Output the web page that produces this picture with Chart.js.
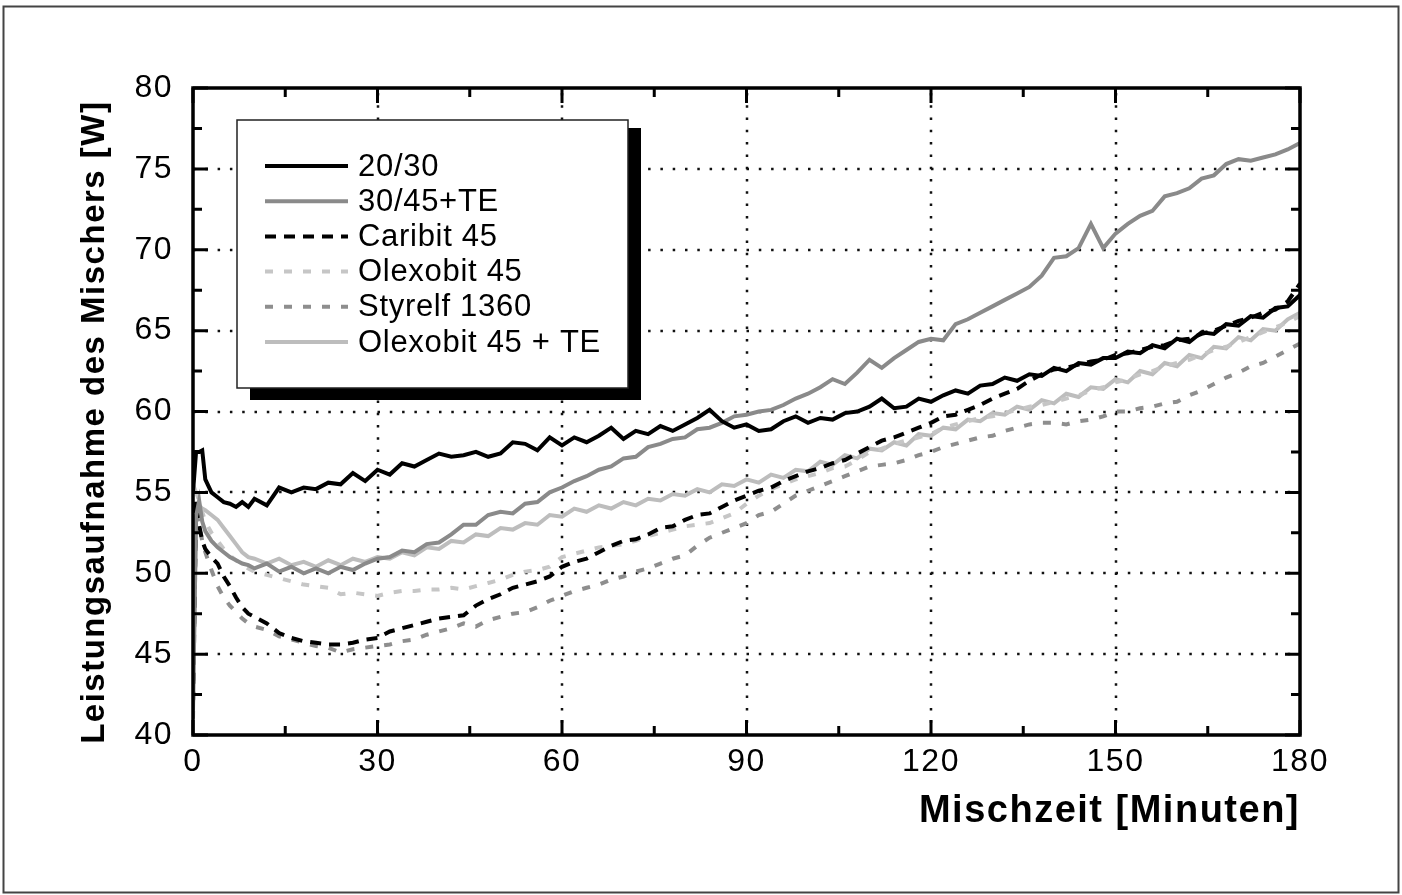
<!DOCTYPE html>
<html>
<head>
<meta charset="utf-8">
<title>Leistungsaufnahme des Mischers</title>
<script src="https://cdn.jsdelivr.net/npm/chart.js@4.4.0/dist/chart.umd.min.js"></script>
<style>
    html, body { margin: 0; padding: 0; background: #fff; }
    #wrap { width: 1402px; height: 895px; }
</style>
</head>
<body>
<div id="wrap"><canvas id="mixChart" width="1402" height="895"></canvas></div>
<script>
// Mixing time in minutes (x values shared by all series)
const minutes = [0, 0.5, 1, 1.5, 2, 3, 4, 5, 6, 7, 8, 9,
    10, 12, 14, 16, 18, 20, 22, 24, 26, 28,
    30, 32, 34, 36, 38, 40, 42, 44, 46, 48,
    50, 52, 54, 56, 58, 60, 62, 64, 66, 68,
    70, 72, 74, 76, 78, 80, 82, 84, 86, 88,
    90, 92, 94, 96, 98, 100, 102, 104, 106, 108,
    110, 112, 114, 116, 118, 120, 122, 124, 126, 128,
    130, 132, 134, 136, 138, 140, 142, 144, 146, 148,
    150, 152, 154, 156, 158, 160, 162, 164, 166, 168,
    170, 172, 174, 176, 178, 180];

// Power draw of the mixer [W]
const bitumen2030 = [55.0, 57.5, 57.5, 57.6, 55.8, 55.0, 54.7, 54.4, 54.3, 54.1, 54.4, 54.1,
    54.6, 54.2, 55.3, 55.0, 55.3, 55.2, 55.6, 55.5, 56.2, 55.7,
    56.4, 56.1, 56.8, 56.6, 57.0, 57.4, 57.2, 57.3, 57.5, 57.2,
    57.4, 58.1, 58.0, 57.6, 58.4, 57.9, 58.4, 58.1, 58.5, 59.0,
    58.3, 58.8, 58.6, 59.1, 58.8, 59.2, 59.6, 60.1, 59.4, 59.0,
    59.2, 58.8, 58.9, 59.4, 59.7, 59.3, 59.6, 59.5, 59.9, 60.0,
    60.3, 60.8, 60.2, 60.3, 60.8, 60.6, 61.0, 61.3, 61.1, 61.6,
    61.7, 62.1, 61.9, 62.3, 62.2, 62.7, 62.5, 63.0, 62.9, 63.3,
    63.3, 63.7, 63.6, 64.1, 63.9, 64.5, 64.3, 64.9, 64.8, 65.4,
    65.3, 65.9, 65.8, 66.4, 66.5, 67.2];

const bitumen3045TE = [41.5, 53.5, 54.5, 53.2, 52.6, 52.0, 51.6, 51.3, 51.0, 50.8, 50.6, 50.5,
    50.3, 50.6, 50.1, 50.4, 50.0, 50.3, 50.0, 50.4, 50.2, 50.6,
    50.9, 51.0, 51.4, 51.3, 51.8, 51.9, 52.4, 53.0, 53.0, 53.6,
    53.8, 53.7, 54.3, 54.4, 55.0, 55.3, 55.7, 56.0, 56.4, 56.6,
    57.1, 57.2, 57.8, 58.0, 58.3, 58.4, 58.9, 59.0, 59.3, 59.7,
    59.8, 60.0, 60.1, 60.4, 60.8, 61.1, 61.5, 62.0, 61.7, 62.4,
    63.2, 62.7, 63.3, 63.8, 64.3, 64.5, 64.4, 65.4, 65.7, 66.1,
    66.5, 66.9, 67.3, 67.7, 68.4, 69.5, 69.6, 70.1, 71.6, 70.1,
    71.0, 71.6, 72.1, 72.4, 73.3, 73.5, 73.8, 74.4, 74.6, 75.3,
    75.6, 75.5, 75.7, 75.9, 76.2, 76.6];

const caribit45 = [42.0, 54.5, 53.0, 52.0, 51.5, 51.0, 50.6, 49.8, 49.2, 48.5, 47.9, 47.5,
    47.3, 46.9, 46.3, 46.0, 45.8, 45.7, 45.6, 45.6, 45.7, 45.9,
    46.0, 46.4, 46.6, 46.8, 47.0, 47.2, 47.3, 47.4, 48.0, 48.4,
    48.7, 49.1, 49.3, 49.5, 49.8, 50.4, 50.7, 50.9, 51.3, 51.7,
    52.0, 52.1, 52.4, 52.8, 52.9, 53.3, 53.6, 53.7, 54.1, 54.5,
    54.8, 55.1, 55.3, 55.7, 56.0, 56.3, 56.5, 56.8, 57.0, 57.4,
    57.8, 58.2, 58.4, 58.7, 59.0, 59.3, 59.7, 59.8, 60.1, 60.4,
    60.8, 61.1, 61.4, 61.9, 62.3, 62.6, 62.7, 62.9, 63.1, 63.2,
    63.5, 63.6, 63.8, 64.0, 64.1, 64.4, 64.5, 64.8, 65.0, 65.3,
    65.6, 65.8, 66.1, 66.3, 66.8, 67.9];

const olexobit45 = [42.0, 55.0, 54.5, 53.8, 53.2, 52.5, 52.0, 51.5, 51.1, 50.8, 50.5, 50.3,
    50.1, 49.9, 49.7, 49.5, 49.3, 49.2, 49.1, 48.7, 48.8, 48.7,
    48.6, 48.8, 48.9, 48.9, 49.0, 49.0, 49.1, 49.0, 49.2, 49.4,
    49.6, 49.9, 50.1, 50.2, 50.4, 51.0, 51.2, 51.4, 51.6, 51.7,
    51.8, 52.0, 52.3, 52.5, 52.7, 52.9, 53.0, 53.1, 53.4, 53.7,
    54.3, 54.8, 55.2, 55.5, 55.8, 56.0, 56.2, 56.5, 56.6, 57.0,
    57.5, 57.7, 58.0, 58.2, 58.4, 58.6, 59.0, 59.2, 59.4, 59.6,
    59.7, 59.9, 60.1, 60.3, 60.4, 60.6, 60.8, 61.0, 61.3, 61.5,
    61.8, 62.0, 62.3, 62.5, 62.8, 63.0, 63.2, 63.5, 63.8, 64.0,
    64.3, 64.6, 64.9, 65.2, 65.5, 65.9];

const styrelf1360 = [41.0, 53.8, 53.0, 52.0, 51.3, 50.2, 49.2, 48.5, 48.0, 47.6, 47.2, 46.9,
    46.7, 46.5, 46.1, 45.9, 45.7, 45.5, 45.4, 45.1, 45.3, 45.4,
    45.5, 45.6, 45.8, 45.9, 46.2, 46.4, 46.6, 46.9, 46.7, 47.1,
    47.3, 47.5, 47.6, 47.9, 48.3, 48.6, 48.9, 49.1, 49.3, 49.6,
    49.8, 50.1, 50.3, 50.6, 50.9, 51.1, 51.7, 52.2, 52.5, 52.8,
    53.1, 53.6, 53.8, 54.3, 54.8, 55.1, 55.4, 55.7, 56.0, 56.3,
    56.6, 56.7, 56.8, 57.0, 57.3, 57.5, 57.8, 58.0, 58.2, 58.4,
    58.5, 58.8, 59.0, 59.2, 59.3, 59.3, 59.2, 59.4, 59.5, 59.7,
    60.0, 60.0, 60.2, 60.3, 60.5, 60.6, 61.0, 61.3, 61.7, 62.1,
    62.4, 62.8, 63.0, 63.4, 63.8, 64.2];

const olexobit45TE = [42.0, 53.5, 54.2, 54.0, 53.9, 53.6, 53.3, 52.8, 52.3, 51.8, 51.3, 51.0,
    50.9, 50.6, 50.9, 50.5, 50.7, 50.4, 50.8, 50.5, 50.9, 50.7,
    51.0, 50.9, 51.3, 51.1, 51.6, 51.5, 52.0, 51.9, 52.4, 52.3,
    52.8, 52.7, 53.1, 53.0, 53.6, 53.5, 54.0, 53.8, 54.2, 54.0,
    54.4, 54.2, 54.6, 54.5, 54.9, 54.8, 55.2, 55.0, 55.5, 55.4,
    55.8, 55.6, 56.1, 55.9, 56.4, 56.3, 56.9, 56.7, 57.3, 57.1,
    57.7, 57.6, 58.1, 57.9, 58.6, 58.5, 59.0, 58.9, 59.5, 59.4,
    59.9, 59.8, 60.3, 60.1, 60.7, 60.5, 61.1, 60.9, 61.5, 61.4,
    62.0, 61.8, 62.5, 62.3, 63.0, 62.8, 63.5, 63.3, 64.0, 63.9,
    64.6, 64.4, 65.1, 65.0, 65.7, 66.1];

// Axis ranges and tick steps
const X_MIN = 0, X_MAX = 180, X_STEP = 30;
const Y_MIN = 40, Y_MAX = 80, Y_STEP = 5;

const FONT = '"Liberation Sans", Arial, Helvetica, sans-serif';

// Pair x and y values into points
function toPoints(values) {
    return values.map((v, i) => ({ x: minutes[i], y: v }));
}

// Slightly wider tracking, like the scanned figure
const tracking = {
    id: 'tracking',
    beforeDraw(chart) {
        chart.ctx.letterSpacing = '1.5px';
    }
};

// Dotted grid, plot frame and inward ticks on all four sides
const frameAndTicks = {
    id: 'frameAndTicks',
    beforeDatasetsDraw(chart) {
        const { ctx, chartArea: a, scales: { x, y } } = chart;
        ctx.save();
        ctx.strokeStyle = '#111';
        ctx.lineWidth = 2.5;
        ctx.setLineDash([2.5, 9.8]);
        x.ticks.forEach(t => {
            if (t.value <= X_MIN || t.value >= X_MAX) return;
            const px = Math.round(x.getPixelForValue(t.value));
            ctx.beginPath();
            ctx.moveTo(px, a.bottom);
            ctx.lineTo(px, a.top);
            ctx.stroke();
        });
        y.ticks.forEach(t => {
            if (t.value <= Y_MIN || t.value >= Y_MAX) return;
            const py = Math.round(y.getPixelForValue(t.value));
            ctx.beginPath();
            ctx.moveTo(a.left, py);
            ctx.lineTo(a.right, py);
            ctx.stroke();
        });
        ctx.restore();
    },
    afterDatasetsDraw(chart) {
        const { ctx, chartArea: a, scales: { x, y } } = chart;
        ctx.save();
        ctx.strokeStyle = '#000';
        ctx.lineWidth = 3;
        ctx.setLineDash([]);

        const major = 15, minor = 9;
        ctx.beginPath();
        x.ticks.forEach(t => {
            const px = x.getPixelForValue(t.value);
            ctx.moveTo(px, a.bottom); ctx.lineTo(px, a.bottom - major);
            ctx.moveTo(px, a.top); ctx.lineTo(px, a.top + major);
            if (t.value + X_STEP / 2 < X_MAX) {
                const pm = x.getPixelForValue(t.value + X_STEP / 2);
                ctx.moveTo(pm, a.bottom); ctx.lineTo(pm, a.bottom - minor);
                ctx.moveTo(pm, a.top); ctx.lineTo(pm, a.top + minor);
            }
        });
        y.ticks.forEach(t => {
            const py = y.getPixelForValue(t.value);
            ctx.moveTo(a.left, py); ctx.lineTo(a.left + major, py);
            ctx.moveTo(a.right, py); ctx.lineTo(a.right - major, py);
            if (t.value + Y_STEP / 2 < Y_MAX) {
                const pm = y.getPixelForValue(t.value + Y_STEP / 2);
                ctx.moveTo(a.left, pm); ctx.lineTo(a.left + minor, pm);
                ctx.moveTo(a.right, pm); ctx.lineTo(a.right - minor, pm);
            }
        });
        ctx.stroke();

        ctx.lineWidth = 3.5;
        ctx.strokeRect(a.left, a.top, a.right - a.left, a.bottom - a.top);
        ctx.restore();
    },
    afterDraw(chart) {
        const { ctx } = chart;
        ctx.save();

        // Legend box with a black drop shadow
        const box = { x: 237, y: 120, w: 391, h: 268 };
        ctx.fillStyle = '#000';
        ctx.fillRect(box.x + 13, box.y + 8, box.w, box.h + 4);
        ctx.fillStyle = '#fff';
        ctx.fillRect(box.x, box.y, box.w, box.h);
        ctx.strokeStyle = '#222';
        ctx.lineWidth = 1.5;
        ctx.strokeRect(box.x, box.y, box.w, box.h);

        ctx.letterSpacing = '0.7px';
        ctx.font = '31px ' + FONT;
        ctx.textBaseline = 'middle';
        ctx.textAlign = 'left';
        chart.data.datasets.forEach((ds, i) => {
            const rowY = 166 + i * 35.2;
            ctx.strokeStyle = ds.borderColor;
            ctx.lineWidth = ds.borderWidth;
            ctx.setLineDash(ds.borderDash || []);
            ctx.beginPath();
            ctx.moveTo(265, rowY);
            ctx.lineTo(348, rowY);
            ctx.stroke();
            ctx.fillStyle = '#000';
            ctx.fillText(ds.label, 358, rowY + 1);
        });

        // Outer picture frame
        ctx.setLineDash([]);
        ctx.strokeStyle = '#444';
        ctx.lineWidth = 2;
        ctx.strokeRect(3.5, 6.5, 1395, 886);
        ctx.restore();
    }
};

const mixCtx = document.getElementById('mixChart').getContext('2d');
new Chart(mixCtx, {
    type: 'line',
    data: {
        datasets: [
            { label: '20/30', data: toPoints(bitumen2030), borderColor: '#000', borderWidth: 4 },
            { label: '30/45+TE', data: toPoints(bitumen3045TE), borderColor: '#8a8a8a', borderWidth: 4 },
            { label: 'Caribit 45', data: toPoints(caribit45), borderColor: '#000', borderWidth: 4, borderDash: [11, 8] },
            { label: 'Olexobit 45', data: toPoints(olexobit45), borderColor: '#c6c6c6', borderWidth: 4, borderDash: [8, 11] },
            { label: 'Styrelf 1360', data: toPoints(styrelf1360), borderColor: '#8e8e8e', borderWidth: 4, borderDash: [8, 11] },
            { label: 'Olexobit 45 + TE', data: toPoints(olexobit45TE), borderColor: '#bdbdbd', borderWidth: 4 }
        ]
    },
    options: {
        responsive: false,
        animation: false,
        layout: { padding: { left: 0, top: 88, right: 102, bottom: 0 } },
        plugins: {
            legend: { display: false },
            tooltip: { enabled: false }
        },
        elements: {
            point: { radius: 0 },
            line: { tension: 0, borderCapStyle: 'butt', borderJoinStyle: 'miter' }
        },
        scales: {
            x: {
                type: 'linear',
                min: X_MIN,
                max: X_MAX,
                afterFit: scale => { scale.height = 160; },
                grid: { display: false },
                border: { display: false },
                ticks: {
                    stepSize: X_STEP,
                    padding: 0,
                    maxRotation: 0,
                    color: '#000',
                    font: { family: FONT, size: 32 }
                },
                title: {
                    display: true,
                    text: 'Mischzeit [Minuten]',
                    align: 'end',
                    color: '#000',
                    font: { family: FONT, size: 38, weight: 'bold' },
                    padding: { top: 0, bottom: 61 }
                }
            },
            y: {
                min: Y_MIN,
                max: Y_MAX,
                afterFit: scale => { scale.width = 193; },
                grid: { display: false },
                border: { display: false },
                ticks: {
                    stepSize: Y_STEP,
                    padding: 12,
                    color: '#000',
                    font: { family: FONT, size: 32 }
                },
                title: {
                    display: true,
                    text: 'Leistungsaufnahme des Mischers [W]  ',
                    color: '#000',
                    font: { family: FONT, size: 33, weight: 'bold' },
                    padding: { top: 75, bottom: 0 }
                }
            }
        }
    },
    plugins: [tracking, frameAndTicks]
});
</script>
</body>
</html>
